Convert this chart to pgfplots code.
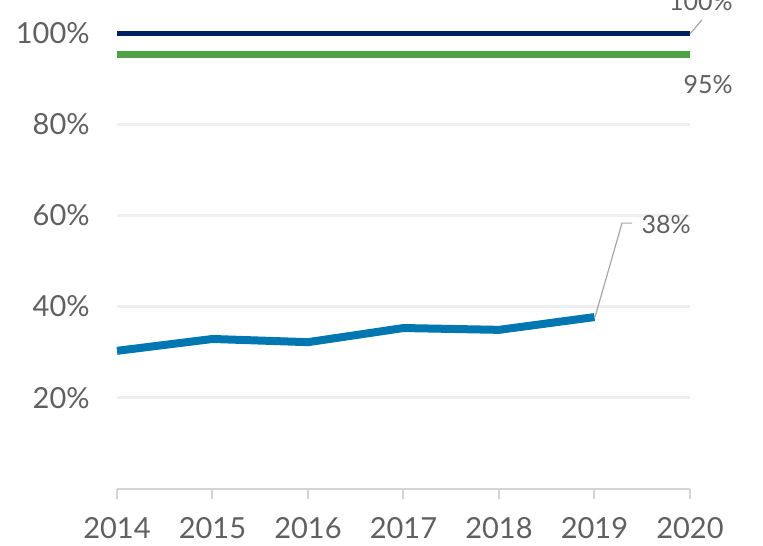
\documentclass[border=0pt]{standalone}
\usepackage{pgfplots}
\pgfplotsset{compat=1.18}
\usepackage{fontspec}
\setmainfont{Lato}
\definecolor{txt}{HTML}{606060}
\definecolor{gridc}{HTML}{EFEFEF}
\definecolor{axc}{HTML}{D4D4D4}
\definecolor{blueL}{HTML}{0077B0}
\definecolor{navy}{HTML}{002060}
\definecolor{greenL}{HTML}{50A145}
\definecolor{lead}{HTML}{A6A6A6}
\begin{document}
\begin{tikzpicture}
\begin{axis}[
  name=a,
  scale only axis,
  width=286.5pt, height=228pt,
  xmin=2014, xmax=2020, ymin=0, ymax=100,
  clip=false,
  axis y line=none,
  axis x line*=bottom,
  x axis line style={axc, line width=1pt, -},
  xtick={2014,...,2020},
  xticklabels={2014,2015,2016,2017,2018,2019,2020},
  tick style={axc, line width=1pt},
  major tick length=5pt,
  xtick align=outside,
  tick label style={font=\fontsize{14.5}{16}\selectfont, text=txt},
  xticklabel style={yshift=-5.5pt},
  /pgf/number format/assume math mode=true,
]
% grid lines
\foreach \yv in {20,40,60,80} {
  \edef\tmp{\noexpand\addplot[gridc, line width=1.5pt, forget plot] coordinates {(2014,\yv) (2020,\yv)};}
  \tmp
}
% y tick labels
\foreach \yv in {20,40,60,80,100} {
  \edef\tmp{\noexpand\node[anchor=east, text=txt, font=\noexpand\fontsize{14.5}{16}\noexpand\selectfont, inner sep=0pt] at (axis cs:2014,\yv) [xshift=-13.5pt] {\yv\noexpand\%};}
  \tmp
}
\addplot[navy, line width=2.5pt] coordinates {(2014,99.8) (2020,99.8)};
\addplot[greenL, line width=3.5pt] coordinates {(2014,95.2) (2020,95.2)};
\addplot[blueL, line width=4pt, line join=round] coordinates {
 (2014,30.3) (2015,32.9) (2016,32.2) (2017,35.3) (2018,34.9) (2019,37.7)};
% leaders and labels
\draw[lead, line width=0.6pt] (axis cs:2019.005,37.7) -- (axis cs:2019.288,58.3) -- (axis cs:2019.393,58.3);
\node[text=txt, font=\fontsize{12.5}{14}\selectfont, inner sep=0pt] at (axis cs:2019.749,58.0) {38\%};
\draw[lead, line width=0.6pt] (axis cs:2020,99.8) -- (axis cs:2020.126,102.9);
\node[text=txt, font=\fontsize{12.5}{14}\selectfont, inner sep=0pt, anchor=base] at (axis cs:2020.115,105.0) {100\%};
\node[text=txt, font=\fontsize{12.5}{14}\selectfont, inner sep=0pt] at (axis cs:2020.19,88.8) {95\%};
\end{axis}
\pgfresetboundingbox
\path[use as bounding box] ([xshift=-58.5pt,yshift=-28pt]a.south west) rectangle ([xshift=36.5pt,yshift=16.5pt]a.north east);
\end{tikzpicture}
\end{document}
